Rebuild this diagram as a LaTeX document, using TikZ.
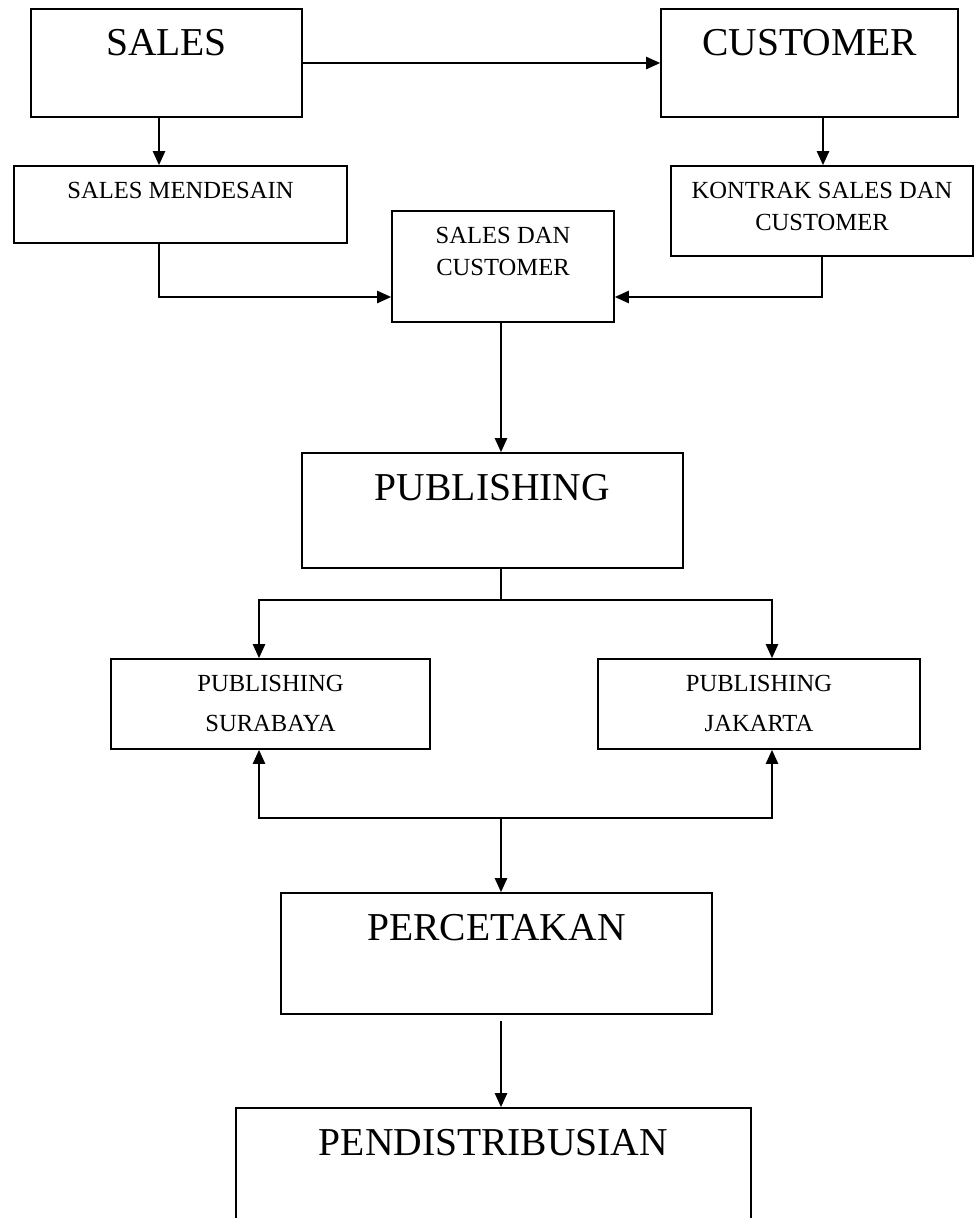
\documentclass[tikz,border=0pt]{standalone}
\usepackage{fontspec}
\setmainfont{Liberation Serif}
\usetikzlibrary{arrows.meta,positioning}
\begin{document}
\begin{tikzpicture}[x=0.02cm,y=-0.02cm,
    box/.style={draw,line width=1pt,inner sep=0pt},
    bigtext/.style={inner sep=0pt,outer sep=0pt,font=\fontsize{22.5}{27}\selectfont},
    smalltext/.style={inner sep=0pt,outer sep=0pt,align=center,font=\fontsize{14}{18.5}\selectfont},
    line/.style={line width=1pt},
    arr/.style={line width=1pt,-{Triangle[length=8pt,width=7pt]}},
    arrboth/.style={line width=1pt,{Triangle[length=8pt,width=7pt]}-{Triangle[length=8pt,width=7pt]}}]
    \clip (0,0) rectangle (974,1218);
    \useasboundingbox (0,0) rectangle (974,1218);
    % boxes
    \node[box,minimum width=5.42cm,minimum height=2.16cm] (sales) at (166.5,63) {};
    \node[box,minimum width=5.94cm,minimum height=2.16cm] (customer) at (809.5,63) {};
    \node[box,minimum width=6.66cm,minimum height=1.54cm] (mendesain) at (180.5,204.5) {};
    \node[box,minimum width=6.04cm,minimum height=1.8cm] (kontrak) at (822,211) {};
    \node[box,minimum width=4.44cm,minimum height=2.22cm] (salesdan) at (503,266.5) {};
    \node[box,minimum width=7.62cm,minimum height=2.3cm] (publishing) at (492.5,510.5) {};
    \node[box,minimum width=6.38cm,minimum height=1.8cm] (surabaya) at (270.5,704) {};
    \node[box,minimum width=6.44cm,minimum height=1.8cm] (jakarta) at (759,704) {};
    \node[box,minimum width=8.62cm,minimum height=2.42cm] (percetakan) at (496.5,953.5) {};
    \node[box,minimum width=10.3cm,minimum height=2.64cm] (pendis) at (493.5,1174) {};
    % texts
    \node[bigtext,below=0.42cm of sales.north] (salesT) {SALES};
    \node[bigtext,below=0.42cm of customer.north] (customerT) {CUSTOMER};
    \node[smalltext,below=0.34cm of mendesain.north] (mendesainT) {SALES MENDESAIN};
    \node[smalltext,below=0.34cm of kontrak.north] (kontrakT) {KONTRAK SALES DAN\\CUSTOMER};
    \node[smalltext,below=0.34cm of salesdan.north] (salesdanT) {SALES DAN\\CUSTOMER};
    \node[bigtext,below=0.44cm of publishing.north] (publishingT) {PUBLISHING};
    \node[smalltext,below=0.35cm of surabaya.north] (surabayaT) {PUBLISHING\\[4pt]SURABAYA};
    \node[smalltext,below=0.35cm of jakarta.north] (jakartaT) {PUBLISHING\\[4pt]JAKARTA};
    \node[bigtext,below=0.44cm of percetakan.north] (percetakanT) {PERCETAKAN};
    \node[bigtext,below=0.44cm of pendis.north] (pendisT) {PENDISTRIBUSIAN};
    % connectors
    \coordinate (fork) at (501,600);
    \coordinate (join) at (501,818);
    \draw[arr] (sales.east) -- (customer.west);
    \draw[arr] ([xshift=-0.15cm]sales.south) -- ([xshift=-0.43cm]mendesain.north);
    \draw[arr] ([xshift=0.27cm]customer.south) -- ([xshift=0.02cm]kontrak.north);
    \draw[arr] ([xshift=-0.43cm]mendesain.south) |- ([yshift=-0.61cm]salesdan.west);
    \draw[arr] (kontrak.south) |- ([yshift=-0.61cm]salesdan.east);
    \draw[arr] ([xshift=-0.04cm]salesdan.south) -- ([xshift=0.17cm]publishing.north);
    \draw[line] (publishing.south -| fork) -- (fork);
    \draw[arr] (fork) -| ([xshift=-0.23cm]surabaya.north);
    \draw[arr] (fork) -| ([xshift=0.26cm]jakarta.north);
    \draw[arrboth] ([xshift=-0.23cm]surabaya.south) |- (join) -| ([xshift=0.26cm]jakarta.south);
    \draw[arr] (join) -- (join |- percetakan.north);
    \draw[arr] (percetakan.south -| join) ++(0,6) -- (join |- pendis.north);
\end{tikzpicture}
\end{document}
